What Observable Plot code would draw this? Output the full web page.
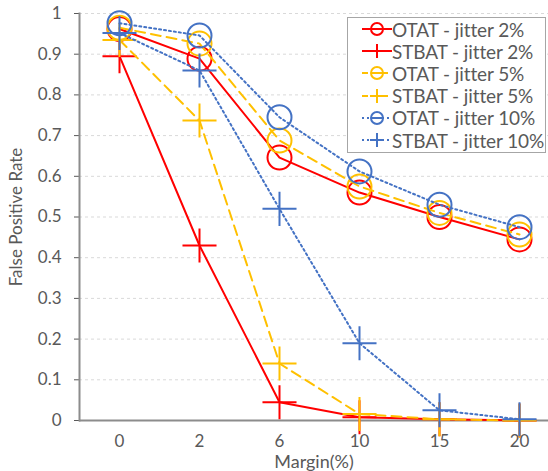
<!DOCTYPE html>
<html>
<head>
<meta charset="utf-8">
<script src="https://cdn.jsdelivr.net/npm/d3@7"></script>
<script src="https://cdn.jsdelivr.net/npm/@observablehq/plot@0.6"></script>
<style>
  html, body { margin: 0; padding: 0; background: #fff; }
  #wrap { position: relative; width: 548px; height: 471px; font-family: Lato, "Open Sans", sans-serif; }
  #legend { position: absolute; left: 347px; top: 17px; width: 199px; height: 136px; border: 1px solid #a6a6a6; background: #fff; box-sizing: border-box; }
  .row { height: 22.2px; display: flex; align-items: center; font-size: 19px; color: #595959; white-space: nowrap; letter-spacing: -0.1px; }
  .row svg { margin-left: 14px; margin-right: 0px; flex: none; }
</style>
</head>
<body>
<div id="wrap"></div>
<script>
const margins = ["0", "2", "6", "10", "15", "20"];
const seriesNames = ["OTAT - jitter 2%", "STBAT - jitter 2%", "OTAT - jitter 5%", "STBAT - jitter 5%", "OTAT - jitter 10%", "STBAT - jitter 10%"];
const otat2 = [0.962, 0.889, 0.646, 0.56, 0.50, 0.445];
const stbat2 = [0.895, 0.43, 0.045, 0.008, 0.003, 0.0];
const otat5 = [0.965, 0.926, 0.688, 0.575, 0.51, 0.457];
const stbat5 = [0.935, 0.737, 0.14, 0.016, 0.003, 0.0];
const otat10 = [0.976, 0.946, 0.745, 0.612, 0.53, 0.475];
const stbat10 = [0.952, 0.86, 0.52, 0.19, 0.025, 0.003];
const seriesValues = [otat2, stbat2, otat5, stbat5, otat10, stbat10];
const colors = ["#ff0000", "#ff0000", "#ffc000", "#ffc000", "#4472c4", "#4472c4"];
const dashes = [null, null, "10,6", "10,6", "2,3", "2,3"];
const symbols = ["circle", "plus", "circle", "plus", "circle", "plus"];
const yTicks = [0, 0.1, 0.2, 0.3, 0.4, 0.5, 0.6, 0.7, 0.8, 0.9, 1];

const marks = [
  Plot.gridY({ticks: yTicks.slice(1), stroke: "#d9d9d9", strokeOpacity: 1, strokeDasharray: "3,3"}),
  Plot.axisY({ticks: yTicks, tickSize: 5, tickPadding: 13, fontSize: 17, color: "#595959",
    tickFormat: d => String(+d.toFixed(1)),
    label: null}),
  Plot.axisX({tickSize: 0, tickPadding: 14, fontSize: 17, color: "#595959", label: null}),
  Plot.axisY({ticks: [], tickSize: 0, fontSize: 17, color: "#595959",
    label: "False Positive Rate", labelAnchor: "center", labelOffset: 70, labelArrow: "none"}),
  Plot.axisX({ticks: [], tickSize: 0, fontSize: 18, color: "#595959",
    label: "Margin(%)", labelAnchor: "center", labelOffset: 47, labelArrow: "none"}),
  Plot.frame({anchor: "left", stroke: "#8c8c8c", strokeWidth: 2}),
  Plot.ruleY([0], {stroke: "#8c8c8c", strokeWidth: 2})
];

seriesNames.forEach((name, i) => {
  const rows = margins.map((m, j) => ({margin: m, value: seriesValues[i][j], series: name}));
  marks.push(Plot.line(rows, {x: "margin", y: "value", stroke: colors[i], strokeWidth: 2,
    strokeDasharray: dashes[i] || undefined}));
  marks.push(Plot.dot(rows, {x: "margin", y: "value", symbol: symbols[i],
    r: symbols[i] === "circle" ? 12 : 11, stroke: colors[i], strokeWidth: 2, fill: "none"}));
});

const chart = Plot.plot({
  width: 548,
  height: 471,
  marginLeft: 79,
  marginRight: 0,
  marginTop: 13,
  marginBottom: 51,
  style: {fontFamily: "Lato, 'Open Sans', sans-serif", background: "#fff"},
  x: {type: "point", domain: margins, range: [119, 519], padding: 0},
  y: {domain: [0, 1]},
  marks
});
const wrap = document.getElementById("wrap");
wrap.appendChild(chart);

const legend = document.createElement("div");
legend.id = "legend";
seriesNames.forEach((name, i) => {
  const row = document.createElement("div");
  row.className = "row";
  const s = d3.create("svg").attr("width", 30).attr("height", 20);
  const ln = s.append("line").attr("x1", 0).attr("x2", 30).attr("y1", 10).attr("y2", 10)
    .attr("stroke", colors[i]).attr("stroke-width", 2);
  if (dashes[i]) ln.attr("stroke-dasharray", i >= 4 ? "2,3" : "6,4");
  if (symbols[i] === "circle") {
    s.append("circle").attr("cx", 15).attr("cy", 10).attr("r", 6).attr("fill", "#fff")
      .attr("stroke", colors[i]).attr("stroke-width", 2);
    s.append("line").attr("x1", 9).attr("x2", 21).attr("y1", 10).attr("y2", 10)
      .attr("stroke", colors[i]).attr("stroke-width", 2);
  } else {
    s.append("line").attr("x1", 15).attr("x2", 15).attr("y1", 3).attr("y2", 17)
      .attr("stroke", colors[i]).attr("stroke-width", 2);
    s.append("line").attr("x1", 8).attr("x2", 22).attr("y1", 10).attr("y2", 10)
      .attr("stroke", colors[i]).attr("stroke-width", 2);
  }
  row.appendChild(s.node());
  const t = document.createElement("span");
  t.textContent = name;
  row.appendChild(t);
  legend.appendChild(row);
});
wrap.appendChild(legend);
</script>
</body>
</html>
